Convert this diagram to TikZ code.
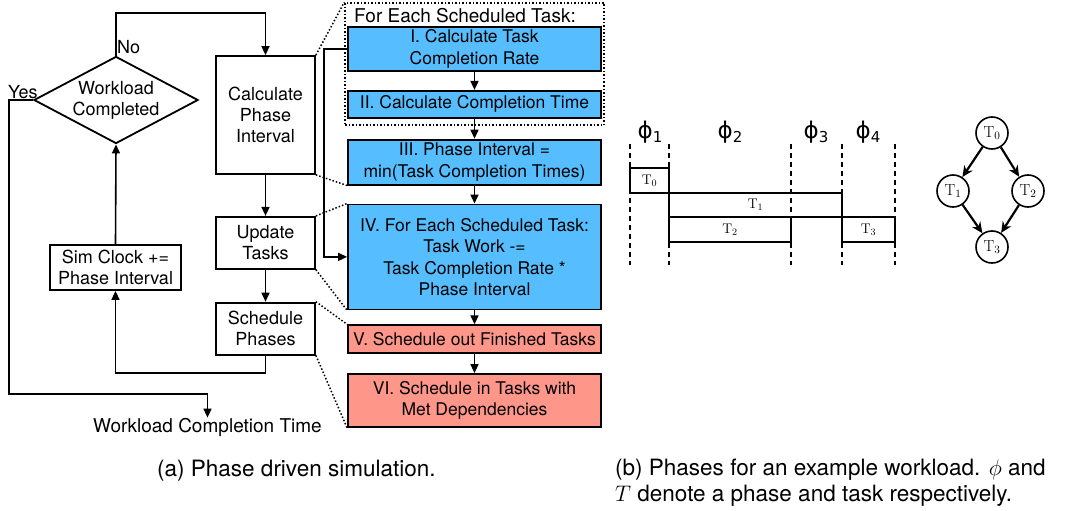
\RequirePackage{fix-cm}
\documentclass[tikz,border=0pt]{standalone}
\usepackage{fontspec}
\setsansfont{TeX Gyre Heros}
\newfontfamily\phifont{DejaVu Sans}
\usetikzlibrary{positioning, calc, shapes.geometric, arrows.meta, fit}
\definecolor{simBlue}{RGB}{86, 190, 254}
\definecolor{simRed}{RGB}{255, 150, 138}

\begin{document}
\begin{tikzpicture}[
    x=1pt, y=-1pt,
    font=\sffamily\fontsize{18}{21}\selectfont,
    flow/.style={rectangle, draw, line width=1.8pt, align=center,
                 minimum width=99pt, inner sep=2pt},
    decide/.style={diamond, draw, line width=1.8pt, align=center,
                   aspect=1.885, inner sep=1pt},
    stage/.style={rectangle, draw, line width=1.8pt, align=center,
                  minimum width=253pt, inner sep=2pt,
                  font=\sffamily\fontsize{17.5}{21.5}\selectfont},
    stageB/.style={stage, fill=simBlue},
    stageR/.style={stage, fill=simRed},
    arrFlow/.style={-{Triangle[length=9pt, width=8pt]}, line width=1.6pt},
    zoomline/.style={dotted, line width=1.5pt},
    tbar/.style={rectangle, draw, line width=2.2pt, inner sep=0pt,
                 font=\fontsize{14}{14}\selectfont},
    tnode/.style={circle, draw, line width=1.6pt, minimum size=32pt,
                  inner sep=0pt, font=\fontsize{16}{16}\selectfont},
    dep/.style={-{Stealth[length=11pt, width=10pt]}, line width=2.2pt},
    phase/.style={anchor=base, inner sep=0pt, font=\phifont\fontsize{23}{23}\selectfont},
    caption/.style={inner sep=0pt, align=left,
                    font=\sffamily\fontsize{22.5}{25.5}\selectfont},
  ]
    \useasboundingbox (0,0) rectangle (1076,511);

    % (a) left: simulation loop
    \node[decide] (D) at (116,100) {Workload\\Completed};
    \node[flow, minimum height=118pt] (calc) at (265.5,115) {Calculate\\Phase\\Interval};
    \node[flow, minimum height=52pt, below=41pt of calc] (upd) {Update\\Tasks};
    \node[flow, minimum height=52pt, below=32pt of upd] (sch) {Schedule\\Phases};
    \node[flow, minimum width=131pt, minimum height=45pt] (sim) at (115.5,267.5)
      {Sim Clock +=\\Phase Interval};
    \node[anchor=base west, inner sep=0pt] (no) at (117,53) {No};
    \node[anchor=base west, inner sep=0pt] (yes) at (8,98) {Yes};
    \node[inner sep=0pt, font=\sffamily\fontsize{19}{19}\selectfont] (wct) at (207.5,427)
      {Workload Completion Time};

    \coordinate (noTurn) at (116,13);
    \coordinate (backTurn) at (265.5,373);
    \coordinate (yesTurn) at (9,394);
    \draw[arrFlow] (D.north) -- (noTurn) -| (calc.north);
    \draw[arrFlow] (calc) -- (upd);
    \draw[arrFlow] (upd) -- (sch);
    \draw[arrFlow] (sch.south) -- (backTurn) -| (sim.south);
    \draw[arrFlow] (sim.north) -- (D.south);
    \draw[arrFlow] (D.west) -| (yesTurn) -| (wct.north);

    % (a) right: steps of one phase
    \node[stageB, minimum height=44pt] (I) at (474.5,49) {I. Calculate Task\\Completion Rate};
    \node[stageB, minimum height=27pt, below=18pt of I] (II) {II. Calculate Completion Time};
    \node[stageB, minimum height=45pt, below=20pt of II] (III)
      {III. Phase Interval =\\min(Task Completion Times)};
    \node[stageB, minimum height=105pt, below=18pt of III] (IV)
      {IV. For Each Scheduled Task:\\Task Work -=\\Task Completion Rate *\\Phase Interval};
    \node[stageR, minimum height=28pt, below=14pt of IV] (V) {V. Schedule out Finished Tasks};
    \node[stageR, minimum height=53pt, below=19pt of V] (VI)
      {VI. Schedule in Tasks with\\Met Dependencies};

    \node[anchor=west, inner sep=0pt, font=\sffamily\fontsize{19}{19}\selectfont] (hdr)
      at (354,16) {For Each Scheduled Task:};
    \coordinate (gTL) at (345,3);
    \coordinate (gBR) at (604,125);
    \node[draw, zoomline, fit=(gTL)(gBR), inner sep=0pt] (grp) {};

    \foreach \a/\b in {I/II, II/III, III/IV, IV/V, V/VI}
      \draw[arrFlow] (\a) -- (\b);
    \draw[arrFlow] (I.west) -- ++(-23,0) |- (IV.west);

    % zoom lines
    \draw[zoomline] (calc.north east) -- (grp.north west);
    \draw[zoomline] (calc.south east) -- (III.south west);
    \draw[zoomline] (upd.north east) -- (IV.north west);
    \draw[zoomline] (upd.south east) -- (IV.south west);
    \draw[zoomline] (sch.north east) -- (V.north west);
    \draw[zoomline] (sch.south east) -- (VI.south west);

    % (b) phases of the example workload
    \foreach \x in {630,669,791,842,895}
      \draw[line width=1.3pt, dash pattern=on 5pt off 4pt] (\x,144) -- (\x,265);
    \node[phase] (ph1) at (650,138) {ϕ\raisebox{-4.5pt}{\fontsize{15}{15}\selectfont 1}};
    \node[phase] (ph2) at (730,138) {ϕ\raisebox{-4.5pt}{\fontsize{15}{15}\selectfont 2}};
    \node[phase] (ph3) at (816,138) {ϕ\raisebox{-4.5pt}{\fontsize{15}{15}\selectfont 3}};
    \node[phase] (ph4) at (868,138) {ϕ\raisebox{-4.5pt}{\fontsize{15}{15}\selectfont 4}};

    \node[tbar, minimum width=39pt, minimum height=25pt] (t0) at (649.5,180.5) {$\mathrm{T}_0$};
    \node[tbar, minimum width=173pt, minimum height=24pt] (t1) at (755.5,205) {$\mathrm{T}_1$};
    \node[tbar, minimum width=122pt, minimum height=25pt] (t2) at (730,229.5) {$\mathrm{T}_2$};
    \node[tbar, minimum width=53pt, minimum height=25pt] (t3) at (868.5,229.5) {$\mathrm{T}_3$};

    % dependency graph
    \node[tnode] (n0) at (992,133) {$\mathrm{T}_0$};
    \node[tnode] (n1) at (953,191) {$\mathrm{T}_1$};
    \node[tnode] (n2) at (1028,191) {$\mathrm{T}_2$};
    \node[tnode] (n3) at (992,247) {$\mathrm{T}_3$};
    \draw[dep] (n0) -- (n1);
    \draw[dep] (n0) -- (n2);
    \draw[dep] (n1) -- (n3);
    \draw[dep] (n2) -- (n3);

    % captions
    \node[caption, anchor=base west] (capA) at (157,476) {(a) Phase driven simulation.};
    \node[caption, anchor=north west] (capB) at (615,459)
      {(b) Phases for an example workload. $\phi$ and\\
       $T$ denote a phase and task respectively.};
  \end{tikzpicture}
\end{document}
